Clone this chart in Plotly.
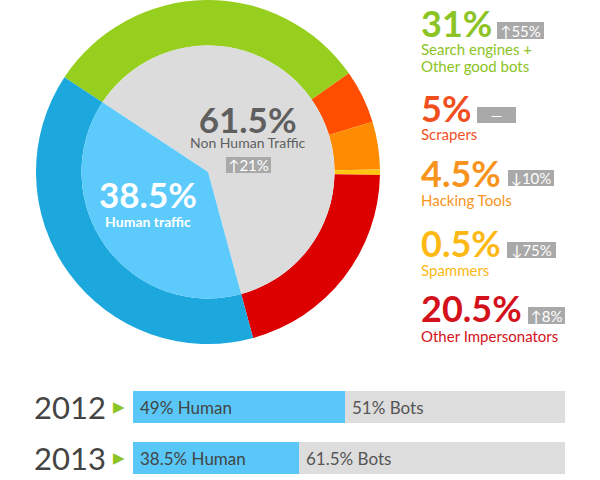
import plotly.graph_objects as go

W, H = 600, 480

# ---- data ----
bot_categories = ["Search engines + Other good bots", "Scrapers", "Hacking Tools",
                  "Spammers", "Other Impersonators", "Human traffic"]
ring_values = [31, 5, 4.5, 0.5, 20.5, 38.5]
ring_colors = ["#97cf1f", "#ff4e00", "#ff8c00", "#ffc512", "#dd0000", "#1ca8dd"]

inner_labels = ["Non Human Traffic", "Human traffic"]
inner_values = [61.5, 38.5]
inner_colors = ["#dcdcdc", "#5ccbfb"]

legend_pct = ["31%", "5%", "4.5%", "0.5%", "20.5%"]
legend_change = ["↑55%", "—", "↓10%", "↓75%", "↑8%"]
legend_lines = [["Search engines +", "Other good bots"], ["Scrapers"], ["Hacking Tools"],
                ["Spammers"], ["Other Impersonators"]]
legend_colors = ["#8cc425", "#f24f1e", "#f7941d", "#fcb814", "#d3121b"]

years = ["2012", "2013"]
human_share = [49, 38.5]
bot_share = [51, 61.5]

FONT = "Lato"
ASC, DESC = 0.987, 0.213  # Lato vertical metrics

def px(x):
    return x / W

def py(y):
    return 1 - y / H

# pie geometry (pixels)
cx, cy, R_out, R_in = 208, 172, 172, 126.5
rotation = -56.6

fig = go.Figure()
fig.add_trace(go.Pie(
    labels=bot_categories, values=ring_values, sort=False, direction="clockwise",
    rotation=rotation, hole=R_in / R_out, textinfo="none", showlegend=False,
    marker=dict(colors=ring_colors, line=dict(width=0)),
    domain=dict(x=[px(cx - R_out), px(cx + R_out)], y=[py(cy + R_out), py(cy - R_out)]),
))
fig.add_trace(go.Pie(
    labels=inner_labels, values=inner_values, sort=False, direction="clockwise",
    rotation=rotation, textinfo="none", showlegend=False,
    marker=dict(colors=inner_colors, line=dict(width=0)),
    domain=dict(x=[px(cx - R_in), px(cx + R_in)], y=[py(cy + R_in), py(cy - R_in)]),
))

# bars (category order: 2013 at bottom, 2012 on top)
cat_order = ["2013", "2012"]
fig.add_trace(go.Bar(y=years, x=human_share, orientation="h", width=0.63,
                     marker=dict(color="#59c8f8", line=dict(width=0)), showlegend=False,
                     hoverinfo="skip"))
fig.add_trace(go.Bar(y=years, x=bot_share, orientation="h", width=0.63,
                     marker=dict(color="#dddddd", line=dict(width=0)), showlegend=False,
                     hoverinfo="skip"))

ann = []

def block(x, b1, big, big_size, lines, line_size, spacing, color, xanchor="left",
          line_weight=400):
    """One multi-line text: a big bold first line followed by smaller lines."""
    fb = spacing / 1.3
    parts = [f"<span style='font-size:{big_size}px;font-weight:700'>{big}</span>"]
    for ln in lines:
        parts.append(f"<span style='font-size:{line_size}px;font-weight:{line_weight}'>{ln}</span>")
    top = b1 - ASC * big_size
    bottom = b1 + spacing * len(lines) + DESC * line_size
    ann.append(dict(x=px(x), y=py((top + bottom) / 2), xref="paper", yref="paper",
                    text="<br>".join(parts), showarrow=False, xanchor=xanchor,
                    yanchor="middle", align=xanchor if xanchor != "center" else "center",
                    font=dict(family=FONT, size=fb, color=color)))

def badge(x0, x1, y0, y1, s, size=15):
    ann.append(dict(x=px(x0), y=py((y0 + y1) / 2), xref="paper", yref="paper", text=s,
                    showarrow=False, xanchor="left", yanchor="middle",
                    width=x1 - x0, height=y1 - y0, borderpad=0, borderwidth=0,
                    bgcolor="#a9a9a9", align="center", valign="middle",
                    font=dict(family=FONT, size=size, color="white")))

# legend block on the right
pct_base = [37, 122, 186.5, 257, 322]
spacings = [17.5, 18, 19, 19, 20]
badge_x = [(497, 544), (477, 516), (508, 554), (507, 556), (528, 565)]
badge_y = [(22, 39), (107, 123), (170, 186), (242, 258), (307, 324)]
for i in range(5):
    block(419, pct_base[i], legend_pct[i], 36, legend_lines[i], 15, spacings[i],
          legend_colors[i])
    badge(badge_x[i][0], badge_x[i][1], badge_y[i][0], badge_y[i][1], legend_change[i])

# center texts
block(248, 133, "61.5%", 35, ["Non Human Traffic"], 14, 15, "#5f5f5f", xanchor="center")
badge(226, 271, 157, 173, "↑21%")
block(148, 208, "38.5%", 35, ["<b>Human traffic</b>"], 14, 19, "white", xanchor="center")

# bar labels (category axis -> serial number positions)
for yr, h, b in zip(years, human_share, bot_share):
    yi = cat_order.index(yr)
    ann.append(dict(x=0, y=yi, xref="x", yref="y", text=f"{h:g}% Human", showarrow=False,
                    xanchor="left", yanchor="middle", xshift=5,
                    font=dict(family=FONT, size=17, color="#444444")))
    ann.append(dict(x=h, y=yi, xref="x", yref="y", text=f"{b:g}% Bots", showarrow=False,
                    xanchor="left", yanchor="middle", xshift=5,
                    font=dict(family=FONT, size=17, color="#555555")))
    ann.append(dict(x=px(108), y=yi, xref="paper", yref="y", text=yr, showarrow=False,
                    xanchor="right", yanchor="middle",
                    font=dict(family=FONT, size=31, color="#444444")))
    ann.append(dict(x=px(119), y=yi, xref="paper", yref="y", text="▶", showarrow=False,
                    xanchor="center", yanchor="middle",
                    font=dict(family="DejaVu Sans", size=15, color="#8cc425")))

fig.update_layout(
    width=W, height=H, margin=dict(l=0, r=0, t=0, b=0),
    paper_bgcolor="white", plot_bgcolor="white", barmode="stack", bargap=0,
    annotations=ann,
    xaxis=dict(domain=[px(133), px(565)], range=[0, 100], visible=False, fixedrange=True),
    yaxis=dict(domain=[0, 0.25], type="category", categoryorder="array",
               categoryarray=cat_order, range=[-0.431, 1.922], visible=False,
               fixedrange=True),
)

fig.write_html("out.html")
